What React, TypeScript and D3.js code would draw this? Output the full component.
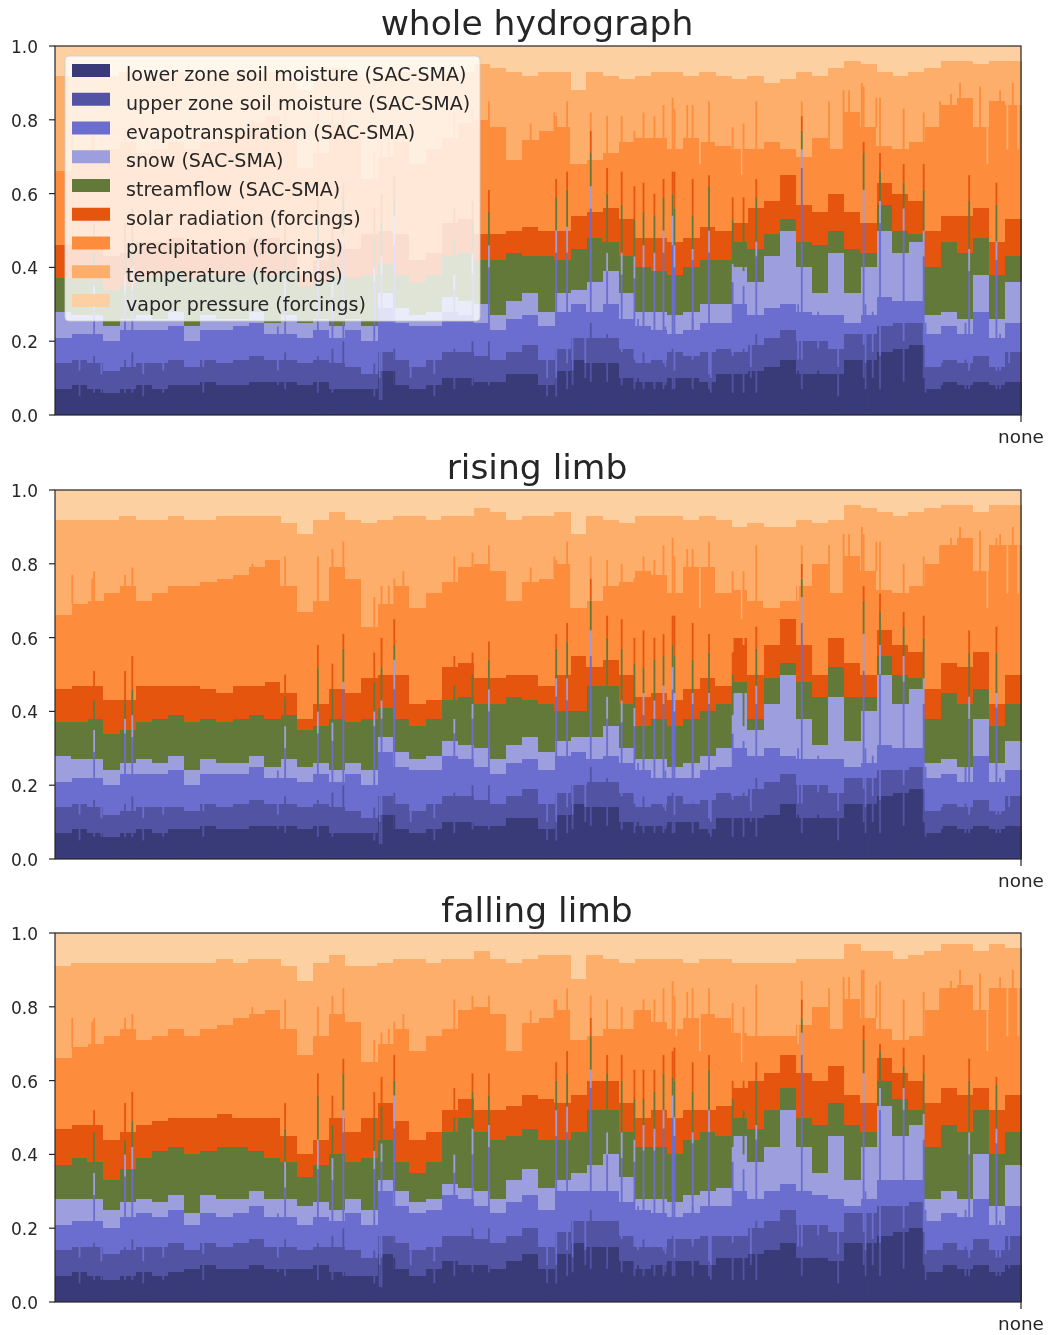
import React from "react";
import * as d3 from "d3";

const seriesNames = ["lower zone soil moisture (SAC-SMA)","upper zone soil moisture (SAC-SMA)","evapotranspiration (SAC-SMA)","snow (SAC-SMA)","streamflow (SAC-SMA)","solar radiation (forcings)","precipitation (forcings)","temperature (forcings)","vapor pressure (forcings)"];
const seriesColors = ["#393b79","#5254a3","#6b6ecf","#9c9ede","#637939","#e6550d","#fd8d3c","#fdae6b","#fdd0a2"];
const titles = ["whole hydrograph","rising limb","falling limb"];
const yTicks = [0,0.2,0.4,0.6,0.8,1];
const xTickLabel = "none";
const BAR_COUNT = 531;

// Upper edge of each stacked layer, per coarse block of basins.
const wholeLower = [.07,.08,.07,.06,.07,.08,.07,.08,.08,.09,.08,.08,.09,.09,.09,.08,.09,.07,.07,.07,.12,.08,.07,.08,.10,.10,.09,.09,.11,.11,.08,.12,.15,.14,.14,.10,.09,.09,.10,.10,.09,.11,.11,.12,.13,.15,.11,.11,.11,.15,.15,.17,.18,.19,.07,.09,.08,.09,.08,.09];
const wholeUpper = [.14,.15,.14,.12,.13,.14,.14,.15,.13,.15,.14,.15,.16,.15,.15,.14,.15,.14,.13,.11,.17,.15,.13,.15,.17,.17,.16,.15,.17,.19,.15,.18,.21,.21,.21,.18,.14,.15,.17,.16,.17,.18,.17,.19,.21,.23,.20,.20,.18,.22,.22,.24,.25,.25,.13,.15,.14,.16,.13,.17];
const wholeEvap = [.21,.22,.22,.20,.23,.23,.23,.24,.20,.23,.23,.24,.25,.22,.22,.21,.23,.21,.23,.20,.29,.25,.24,.24,.28,.27,.25,.23,.26,.27,.24,.28,.30,.28,.30,.26,.24,.23,.22,.23,.25,.25,.30,.27,.29,.30,.28,.27,.27,.25,.27,.32,.31,.31,.22,.24,.22,.28,.21,.25];
const wholeSnow = [.28,.27,.27,.24,.26,.27,.26,.28,.24,.27,.26,.26,.28,.25,.27,.25,.26,.24,.26,.24,.33,.29,.27,.28,.32,.31,.30,.27,.31,.33,.28,.33,.34,.36,.39,.33,.28,.28,.27,.28,.30,.30,.40,.36,.43,.50,.40,.33,.44,.33,.40,.50,.44,.47,.27,.28,.26,.38,.26,.36];
const wholeFlow = [.37,.37,.38,.34,.35,.37,.38,.39,.37,.38,.38,.38,.39,.38,.39,.35,.36,.38,.37,.38,.41,.38,.36,.38,.43,.44,.42,.42,.44,.43,.43,.42,.45,.48,.47,.43,.40,.39,.38,.40,.42,.42,.47,.45,.49,.53,.47,.46,.50,.45,.44,.57,.50,.49,.40,.47,.44,.48,.38,.43];
const wholeSolar = [.46,.47,.47,.43,.44,.47,.47,.48,.47,.47,.47,.47,.48,.48,.45,.38,.42,.47,.45,.49,.50,.49,.42,.44,.52,.53,.49,.49,.50,.51,.50,.50,.54,.55,.56,.53,.48,.48,.47,.48,.51,.50,.52,.56,.58,.65,.57,.55,.60,.55,.52,.63,.60,.58,.50,.54,.54,.56,.47,.53];
const wholePrecip = [.66,.69,.70,.72,.74,.71,.72,.74,.72,.74,.75,.77,.79,.81,.75,.67,.71,.79,.76,.64,.70,.74,.68,.72,.75,.79,.80,.78,.69,.745,.77,.78,.68,.69,.71,.74,.75,.75,.72,.75,.74,.73,.72,.72,.74,.72,.70,.75,.72,.82,.78,.73,.72,.74,.78,.84,.86,.78,.85,.84];
const wholeTemp = [.92,.92,.92,.92,.93,.92,.92,.93,.92,.92,.93,.93,.93,.93,.91,.88,.92,.94,.92,.91,.92,.93,.93,.92,.93,.93,.95,.94,.93,.92,.93,.93,.88,.93,.92,.91,.92,.93,.93,.92,.93,.92,.91,.92,.90,.91,.93,.92,.94,.96,.95,.93,.92,.93,.94,.96,.96,.95,.96,.96];

const risingLower = [.07,.08,.07,.06,.07,.08,.07,.08,.08,.09,.08,.08,.09,.09,.09,.08,.09,.07,.07,.07,.12,.08,.07,.08,.10,.10,.09,.09,.11,.11,.08,.12,.15,.14,.14,.10,.09,.09,.10,.10,.08,.11,.11,.11,.12,.15,.11,.11,.11,.15,.15,.17,.18,.19,.07,.09,.08,.09,.08,.09];
const risingUpper = [.14,.15,.14,.12,.13,.14,.14,.14,.13,.15,.14,.15,.16,.15,.15,.14,.15,.14,.13,.11,.17,.15,.13,.15,.17,.17,.16,.15,.17,.19,.15,.18,.20,.21,.21,.18,.14,.15,.17,.15,.16,.18,.17,.19,.21,.23,.20,.20,.18,.22,.22,.24,.24,.25,.13,.15,.14,.16,.13,.17];
const risingEvap = [.21,.22,.22,.20,.23,.23,.23,.24,.20,.23,.23,.23,.25,.22,.22,.21,.23,.21,.23,.20,.29,.25,.24,.24,.28,.27,.25,.23,.26,.27,.24,.28,.29,.27,.28,.26,.24,.22,.22,.22,.24,.25,.30,.28,.30,.28,.27,.27,.27,.25,.26,.31,.30,.30,.22,.23,.21,.28,.21,.24];
const risingSnow = [.28,.27,.27,.24,.26,.27,.26,.28,.24,.27,.26,.26,.28,.25,.27,.25,.26,.24,.26,.24,.33,.29,.27,.28,.32,.31,.30,.27,.31,.33,.29,.32,.33,.33,.36,.30,.27,.27,.25,.26,.28,.30,.45,.35,.42,.50,.38,.31,.44,.32,.40,.50,.42,.46,.26,.27,.25,.38,.26,.32];
const risingFlow = [.37,.37,.38,.34,.35,.37,.38,.39,.37,.38,.37,.38,.39,.38,.39,.35,.36,.38,.37,.38,.41,.38,.36,.38,.43,.44,.42,.42,.44,.43,.42,.40,.40,.47,.47,.42,.36,.38,.36,.38,.40,.42,.48,.38,.49,.53,.48,.44,.52,.44,.44,.55,.50,.49,.38,.45,.42,.46,.36,.42];
const risingSolar = [.46,.47,.47,.43,.43,.47,.47,.47,.47,.46,.45,.47,.47,.48,.45,.38,.42,.46,.45,.49,.50,.50,.42,.43,.52,.53,.49,.49,.50,.50,.47,.50,.55,.52,.54,.50,.44,.45,.43,.46,.49,.47,.60,.50,.58,.65,.58,.50,.60,.53,.50,.62,.58,.56,.46,.53,.52,.56,.42,.50];
const risingPrecip = [.66,.69,.70,.72,.74,.70,.72,.74,.74,.75,.76,.77,.79,.81,.74,.67,.70,.79,.76,.63,.69,.74,.68,.72,.75,.79,.80,.78,.70,.75,.76,.80,.68,.70,.74,.75,.78,.77,.72,.79,.79,.72,.73,.70,.68,.70,.74,.80,.72,.82,.78,.73,.72,.74,.80,.85,.87,.78,.85,.85];
const risingTemp = [.92,.92,.92,.92,.93,.92,.92,.93,.92,.92,.93,.93,.93,.93,.91,.88,.92,.94,.92,.91,.92,.93,.93,.92,.93,.93,.95,.94,.92,.93,.93,.94,.88,.93,.92,.91,.93,.93,.93,.92,.93,.92,.90,.91,.90,.90,.92,.91,.92,.96,.95,.94,.93,.94,.95,.96,.96,.94,.96,.96];

const fallingLower = [.07,.08,.07,.06,.07,.08,.07,.08,.09,.10,.09,.09,.10,.09,.09,.09,.10,.08,.07,.07,.13,.09,.07,.09,.11,.10,.10,.09,.11,.13,.09,.13,.16,.15,.15,.11,.09,.10,.11,.11,.10,.12,.12,.13,.14,.16,.12,.12,.11,.16,.16,.18,.19,.20,.08,.10,.09,.10,.08,.10];
const fallingUpper = [.14,.15,.15,.13,.14,.15,.15,.16,.14,.16,.15,.16,.17,.15,.15,.14,.15,.15,.14,.12,.18,.16,.14,.15,.18,.18,.17,.16,.18,.20,.15,.19,.22,.22,.22,.18,.15,.15,.17,.17,.18,.18,.18,.20,.22,.25,.21,.21,.19,.24,.24,.26,.26,.27,.14,.16,.14,.17,.14,.18];
const fallingEvap = [.21,.22,.22,.20,.23,.24,.23,.25,.21,.24,.23,.24,.26,.23,.23,.21,.23,.22,.24,.21,.30,.26,.24,.25,.29,.28,.26,.24,.27,.29,.25,.30,.30,.30,.30,.27,.25,.24,.23,.24,.26,.26,.30,.28,.30,.32,.30,.29,.28,.26,.28,.33,.33,.33,.22,.24,.23,.28,.21,.26];
const fallingSnow = [.28,.28,.28,.25,.27,.28,.27,.29,.24,.29,.28,.28,.30,.28,.28,.26,.27,.25,.28,.25,.33,.30,.27,.28,.32,.31,.30,.28,.33,.36,.31,.33,.35,.37,.40,.34,.28,.28,.27,.29,.30,.31,.45,.38,.42,.52,.42,.35,.45,.33,.42,.53,.45,.48,.28,.30,.28,.40,.26,.37];
const fallingFlow = [.37,.39,.38,.33,.36,.39,.41,.42,.40,.41,.42,.42,.41,.39,.38,.34,.37,.40,.38,.39,.44,.38,.35,.38,.46,.50,.46,.44,.45,.47,.44,.44,.46,.52,.52,.46,.42,.42,.40,.44,.46,.45,.50,.47,.52,.58,.50,.48,.54,.48,.46,.60,.55,.52,.42,.48,.46,.52,.40,.46];
const fallingSolar = [.47,.48,.48,.44,.46,.48,.49,.50,.50,.50,.51,.50,.50,.50,.45,.40,.44,.50,.46,.50,.54,.49,.44,.46,.52,.55,.52,.52,.53,.56,.55,.54,.56,.60,.60,.54,.50,.52,.50,.52,.52,.53,.58,.60,.62,.67,.62,.60,.64,.56,.54,.66,.62,.60,.54,.58,.56,.58,.52,.56];
const fallingPrecip = [.66,.69,.70,.72,.74,.71,.72,.74,.72,.74,.75,.77,.78,.79,.74,.67,.72,.78,.76,.65,.70,.74,.68,.72,.74,.79,.80,.78,.68,.755,.77,.79,.71,.72,.74,.74,.79,.76,.74,.77,.78,.77,.73,.72,.72,.72,.75,.80,.74,.82,.77,.74,.71,.72,.79,.85,.86,.79,.85,.85];
const fallingTemp = [.91,.92,.92,.92,.92,.92,.92,.92,.92,.92,.93,.92,.93,.93,.91,.87,.92,.94,.91,.91,.92,.93,.93,.92,.93,.93,.95,.93,.92,.93,.94,.94,.875,.94,.93,.92,.93,.93,.93,.92,.93,.93,.92,.92,.92,.92,.93,.93,.93,.97,.95,.95,.93,.94,.95,.97,.97,.95,.97,.96];

// Single basins that stand out of the blocks: basin number and layer edges.
const spikeBasin = [21,38,42,126,144,152,158,175,179,186,219,229,238,275,281,294,303,311,318,323,329,334,339,340,350,359,372,378,385,410,444,453,466,477,502,517];
const spikeLower = [.06,.06,.06,.07,.06,.06,.07,.05,.04,.12,.07,.08,.08,.05,.07,.09,.09,.08,.07,.07,.07,.07,.07,.07,.07,.07,.06,.06,.06,.07,.10,.07,.09,.10,.07,.07];
const spikeUpper = [.16,.15,.17,.17,.16,.18,.20,.14,.12,.18,.18,.20,.20,.10,.14,.25,.22,.17,.15,.17,.15,.14,.18,.12,.15,.11,.16,.18,.22,.15,.19,.16,.20,.19,.12,.12];

const wholeSpikeEvap = [.29,.33,.34,.30,.35,.32,.45,.36,.38,.46,.34,.38,.40,.44,.44,.56,.39,.38,.37,.40,.39,.44,.46,.40,.42,.44,.36,.35,.43,.67,.52,.52,.50,.43,.39,.42];
const wholeSpikeSnow = [.35,.38,.40,.37,.42,.38,.49,.40,.43,.54,.38,.44,.46,.50,.51,.62,.44,.44,.43,.46,.44,.50,.54,.46,.45,.50,.41,.39,.47,.72,.61,.58,.56,.50,.45,.47];
const wholeSpikeFlow = [.44,.44,.47,.45,.53,.47,.58,.48,.52,.58,.48,.52,.55,.59,.61,.71,.60,.57,.53,.55,.54,.59,.60,.56,.54,.62,.53,.52,.59,.77,.71,.66,.63,.61,.58,.57];
const wholeSpikeSolar = [.52,.52,.56,.52,.60,.54,.63,.56,.60,.65,.56,.58,.61,.64,.66,.77,.67,.66,.62,.63,.60,.64,.66,.66,.64,.65,.59,.59,.64,.81,.74,.71,.68,.68,.65,.63];
const wholeSpikePrecip = [.78,.77,.79,.82,.82,.84,.86,.71,.74,.76,.82,.83,.85,.81,.85,.82,.81,.81,.77,.82,.81,.84,.86,.83,.84,.85,.78,.79,.85,.85,.89,.86,.83,.82,.81,.84];

const risingSpikeEvap = [.29,.34,.33,.30,.34,.32,.46,.36,.38,.46,.34,.38,.40,.44,.43,.55,.38,.37,.36,.39,.38,.42,.46,.40,.42,.42,.34,.32,.42,.64,.51,.50,.48,.42,.38,.41];
const risingSpikeSnow = [.35,.38,.39,.36,.40,.37,.48,.40,.43,.54,.38,.42,.46,.49,.49,.62,.44,.43,.41,.45,.43,.47,.52,.45,.45,.45,.39,.36,.47,.71,.61,.58,.55,.49,.44,.45];
const risingSpikeFlow = [.43,.43,.46,.44,.52,.46,.57,.48,.52,.58,.47,.50,.54,.57,.59,.70,.60,.57,.53,.52,.54,.55,.58,.55,.54,.56,.50,.48,.57,.76,.70,.67,.63,.60,.56,.56];
const risingSpikeSolar = [.51,.51,.55,.50,.58,.53,.61,.56,.60,.65,.55,.56,.59,.61,.64,.76,.66,.65,.60,.62,.60,.61,.66,.66,.64,.61,.56,.58,.63,.80,.74,.72,.67,.66,.62,.63];
const risingSpikePrecip = [.78,.77,.79,.82,.82,.84,.86,.71,.74,.76,.82,.83,.85,.81,.86,.82,.81,.80,.76,.82,.81,.85,.87,.82,.84,.86,.78,.78,.85,.85,.88,.86,.80,.82,.83,.87];

const fallingSpikeEvap = [.29,.34,.36,.31,.36,.33,.46,.36,.38,.47,.35,.40,.42,.45,.46,.58,.40,.39,.38,.41,.41,.47,.50,.45,.43,.46,.38,.36,.44,.67,.54,.52,.52,.44,.40,.43];
const fallingSpikeSnow = [.35,.40,.42,.38,.44,.39,.52,.41,.43,.56,.40,.47,.48,.52,.53,.63,.46,.46,.44,.48,.47,.52,.56,.50,.46,.52,.42,.40,.48,.73,.62,.58,.58,.51,.46,.47];
const fallingSpikeFlow = [.46,.44,.49,.47,.56,.48,.62,.50,.53,.60,.50,.57,.56,.60,.62,.72,.62,.60,.55,.55,.57,.62,.61,.60,.57,.63,.55,.52,.60,.77,.71,.68,.64,.62,.60,.59];
const fallingSpikeSolar = [.52,.54,.57,.54,.62,.56,.66,.57,.61,.67,.58,.62,.62,.65,.68,.77,.67,.67,.63,.63,.63,.67,.68,.69,.65,.67,.60,.60,.65,.82,.75,.70,.69,.67,.66,.61];
const fallingSpikePrecip = [.77,.77,.78,.82,.80,.83,.85,.71,.73,.76,.82,.83,.83,.82,.85,.83,.82,.80,.79,.82,.82,.85,.87,.83,.85,.85,.81,.80,.86,.87,.90,.87,.82,.84,.83,.85];

// Thin basins that look alike in all three panels.
const dipBasin = [13,25,48,59,81,122,178,195,208,270,284,291,320,335,350,360,382,408,419,430,445,449,478,487,500,519,524];
const dipLower = [.05,.06,.05,.06,.06,.08,.04,.07,.05,.05,.08,.10,.10,.08,.10,.06,.10,.12,.12,.05,.07,.10,.06,.08,.07,.07,.09];
const dipUpper = [.12,.11,.11,.12,.13,.12,.10,.10,.11,.10,.12,.14,.14,.13,.16,.10,.13,.15,.18,.13,.14,.17,.13,.14,.15,.12,.14];
const dipEvap = [.21,.20,.21,.22,.23,.24,.20,.23,.21,.22,.24,.25,.26,.24,.26,.22,.26,.30,.28,.26,.30,.28,.25,.22,.25,.22,.24];
const precipSpikeBasin = [9,20,108,183,191,261,274,347,425,433,436,443,451,486,492,497,508,519,526];
const precipSpikeTop = [.77,.76,.80,.74,.78,.79,.82,.84,.85,.88,.88,.90,.86,.85,.87,.90,.89,.88,.90];
const tempDipBasin = [341,354,377,408,512,523,529];
const tempDipValue = [.72,.68,.65,.70,.68,.72,.72];

const panels = [
  { edges:[wholeLower,wholeUpper,wholeEvap,wholeSnow,wholeFlow,wholeSolar,wholePrecip,wholeTemp], spikes:[spikeLower,spikeUpper,wholeSpikeEvap,wholeSpikeSnow,wholeSpikeFlow,wholeSpikeSolar,wholeSpikePrecip], top:46, bottom:415 },
  { edges:[risingLower,risingUpper,risingEvap,risingSnow,risingFlow,risingSolar,risingPrecip,risingTemp], spikes:[spikeLower,spikeUpper,risingSpikeEvap,risingSpikeSnow,risingSpikeFlow,risingSpikeSolar,risingSpikePrecip], top:490, bottom:859 },
  { edges:[fallingLower,fallingUpper,fallingEvap,fallingSnow,fallingFlow,fallingSolar,fallingPrecip,fallingTemp], spikes:[spikeLower,spikeUpper,fallingSpikeEvap,fallingSpikeSnow,fallingSpikeFlow,fallingSpikeSolar,fallingSpikePrecip], top:933, bottom:1302 },
];

const LEFT = 55, RIGHT = 1021;
const font = "'DejaVu Sans', sans-serif";
const ink = "#262626";
const x = d3.scaleLinear().domain([0, BAR_COUNT]).range([LEFT, RIGHT]);
const barW = x(1) - x(0);

function Panel({ p, title }: any) {
  const y = d3.scaleLinear().domain([0, 1]).range([p.bottom, p.top]);
  const blocks = wholeLower.length;
  const block = d3.scaleBand<number>().domain(d3.range(blocks)).range([LEFT, RIGHT]);
  const blockOf = d3.scaleQuantize<number>().domain([0, BAR_COUNT]).range(d3.range(blocks));
  return (
    <g>
      <rect x={LEFT} y={p.top} width={RIGHT - LEFT} height={p.bottom - p.top} fill={seriesColors[8]} />
      {p.edges.map((edge: number[], s: number) => edge.map((v: number, i: number) => {
        const lo = s === 0 ? 0 : p.edges[s - 1][i];
        return <rect key={s + "-" + i} x={block(i)} width={block.bandwidth() + 0.5} y={y(v)} height={y(lo) - y(v)} fill={seriesColors[s]} shapeRendering="crispEdges" />;
      }))}
      {precipSpikeBasin.map((b: number, i: number) => {
        const base = p.edges[6][blockOf(b)];
        return <rect key={"ps" + b} x={x(b)} width={barW} y={y(precipSpikeTop[i])} height={Math.max(0, y(base) - y(precipSpikeTop[i]))} fill={seriesColors[6]} />;
      })}
      {tempDipBasin.map((b: number, i: number) => {
        const top = p.edges[6][blockOf(b)];
        return <rect key={"td" + b} x={x(b)} width={barW} y={y(top)} height={Math.max(0, y(tempDipValue[i]) - y(top))} fill={seriesColors[7]} />;
      })}
      {dipBasin.map((b: number, i: number) => (
        <g key={"d" + b}>
          <rect x={x(b)} width={barW} y={y(dipEvap[i])} height={y(dipUpper[i]) - y(dipEvap[i])} fill={seriesColors[2]} />
          <rect x={x(b)} width={barW} y={y(dipUpper[i])} height={y(dipLower[i]) - y(dipUpper[i])} fill={seriesColors[1]} />
          <rect x={x(b)} width={barW} y={y(dipLower[i])} height={y(0) - y(dipLower[i])} fill={seriesColors[0]} />
        </g>
      ))}
      {spikeBasin.map((b: number, i: number) => (
        <g key={b}>
          {p.spikes.map((edge: number[], s: number) => {
            const lo = s === 0 ? 0 : p.spikes[s - 1][i];
            return <rect key={s} x={x(b)} width={barW} y={y(edge[i])} height={y(lo) - y(edge[i])} fill={seriesColors[s]} />;
          })}
        </g>
      ))}
      <rect x={LEFT} y={p.top} width={RIGHT - LEFT} height={p.bottom - p.top} fill="none" stroke={ink} strokeWidth={1.2} />
      {yTicks.map((t) => (
        <g key={t}>
          <line x1={LEFT - 6} x2={LEFT} y1={y(t)} y2={y(t)} stroke={ink} strokeWidth={1.2} />
          <text x={LEFT - 17} y={y(t) + 7} textAnchor="end" fontFamily={font} fontSize={17} fill={ink}>{d3.format(".1f")(t)}</text>
        </g>
      ))}
      <line x1={RIGHT} x2={RIGHT} y1={p.bottom} y2={p.bottom + 7} stroke={ink} strokeWidth={1.2} />
      <text x={RIGHT} y={p.bottom + 28} textAnchor="middle" fontFamily={font} fontSize={18.4} fill={ink}>{xTickLabel}</text>
      <text x={537} y={p.top - 11} textAnchor="middle" fontFamily={font} fontSize={34.5} fill={ink}>{title}</text>
    </g>
  );
}

function Legend() {
  const rowY = d3.scaleLinear().domain([0, 8]).range([71, 301]);
  return (
    <g>
      <rect x={65} y={56} width={415} height={265} rx={4} fill="#fff" fillOpacity={0.8} stroke="#ccc" strokeOpacity={0.8} />
      {seriesNames.map((n, i) => (
        <g key={n}>
          <rect x={72} y={rowY(i) - 7} width={38} height={13} fill={seriesColors[i]} />
          <text x={126} y={rowY(i) + 10} fontFamily={font} fontSize={19.1} fill={ink}>{n}</text>
        </g>
      ))}
    </g>
  );
}

export default function App() {
  return (
    <svg width={1049} height={1335} style={{ position: "absolute", left: 0, top: 0, display: "block", filter: "blur(0.4px)" }}>
      <rect width={1049} height={1335} fill="#fff" />
      {panels.map((p, i) => <Panel key={i} p={p} title={titles[i]} />)}
      <Legend />
    </svg>
  );
}
